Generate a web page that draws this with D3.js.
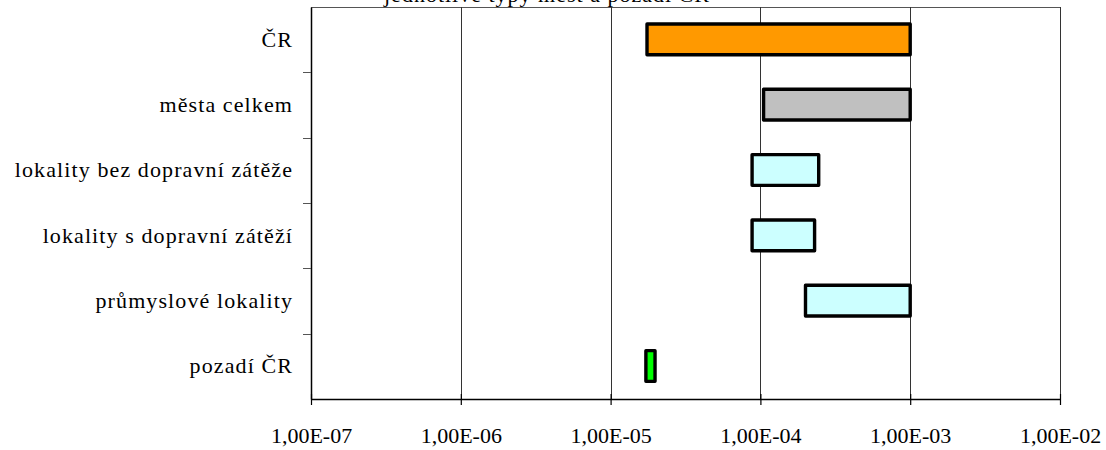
<!DOCTYPE html>
<html>
<head>
<meta charset="utf-8">
<script src="https://cdn.jsdelivr.net/npm/d3@7"></script>
<style>
  body { margin: 0; background: #fff; }
  svg text { font-family: "Liberation Serif", "Times New Roman", serif; }
</style>
</head>
<body>
<div id="chart"></div>
<script>
// data
var categories = ["ČR", "města celkem", "lokality bez dopravní zátěže", "lokality s dopravní zátěží", "průmyslové lokality", "pozadí ČR"]
var minValues = [1.75e-5, 1.05e-4, 8.8e-5, 8.8e-5, 2.0e-4, 1.72e-5]
var maxValues = [1.0e-3, 1.0e-3, 2.45e-4, 2.3e-4, 1.0e-3, 1.98e-5]
var barColors = ["#FF9900", "#C0C0C0", "#CCFFFF", "#CCFFFF", "#CCFFFF", "#00FF00"]
var tickValues = [1e-7, 1e-6, 1e-5, 1e-4, 1e-3, 1e-2]
var tickLabels = ["1,00E-07", "1,00E-06", "1,00E-05", "1,00E-04", "1,00E-03", "1,00E-02"]
var title = "jednotlivé typy měst a pozadí ČR"

const W = 1106, H = 450
const margin = {top: 7, right: 46, bottom: 51, left: 311}
const width = W - margin.left - margin.right
const height = H - margin.top - margin.bottom

const svg = d3.select("#chart").append("svg")
  .attr("width", W)
  .attr("height", H)

const g = svg.append("g")
  .attr("transform", `translate(${margin.left},${margin.top})`)

const x = d3.scaleLog()
  .domain([1e-7, 1e-2])
  .range([0, width])

const y = d3.scaleBand()
  .domain(categories)
  .range([0, height])

// title, cut off at the top like in the original
svg.append("text")
  .attr("x", 384)
  .attr("y", 2)
  .attr("text-anchor", "start")
  .style("font-size", "22px")
  .style("letter-spacing", "1px")
  .text(title)

// top border of the plot
g.append("line")
  .attr("x1", 0).attr("x2", width)
  .attr("y1", 0.5).attr("y2", 0.5)
  .attr("stroke", "#555")
  .attr("stroke-width", 1)

// vertical gridlines
g.selectAll(".grid")
  .data(tickValues.slice(1))
  .enter()
  .append("line")
  .attr("class", "grid")
  .attr("x1", d => Math.round(x(d)) + 0.5)
  .attr("x2", d => Math.round(x(d)) + 0.5)
  .attr("y1", 0)
  .attr("y2", height)
  .attr("stroke", "#333")
  .attr("stroke-width", 1)

// bars
g.selectAll(".bar")
  .data(categories)
  .enter()
  .append("rect")
  .attr("class", "bar")
  .attr("x", (d, i) => x(minValues[i]))
  .attr("y", d => y(d) + y.bandwidth() * 0.26)
  .attr("width", (d, i) => x(maxValues[i]) - x(minValues[i]))
  .attr("height", y.bandwidth() * 0.47)
  .attr("fill", (d, i) => barColors[i])
  .attr("stroke", "#000")
  .attr("stroke-width", 3.4)
  .attr("stroke-linejoin", "round")

// x axis
const xAxis = d3.axisBottom(x)
  .tickValues(tickValues)
  .tickFormat((d, i) => tickLabels[i])
  .tickSizeInner(6)
  .tickSizeOuter(0)
  .tickPadding(22)

const xg = g.append("g")
  .attr("transform", `translate(0,${height})`)
  .call(xAxis)
xg.select(".domain").attr("stroke", "#000").attr("stroke-width", 1.5)
xg.selectAll(".tick line").attr("y1", -5).attr("stroke", "#000").attr("stroke-width", 1.2)
xg.selectAll(".tick text")
  .style("font-family", '"Liberation Serif", serif')
  .style("font-size", "22px")
  .attr("fill", "#000")

// y axis, ticks sit on the category boundaries
const yAxis = d3.axisLeft(y)
  .tickSize(0)
  .tickPadding(18)
const yg = g.append("g").call(yAxis)
yg.select(".domain").attr("stroke", "#000").attr("stroke-width", 1.5)
yg.selectAll(".tick text")
  .style("font-family", '"Liberation Serif", serif')
  .style("font-size", "22px")
  .style("letter-spacing", "1.1px")
  .attr("fill", "#000")

yg.selectAll(".sep")
  .data(categories.slice(1))
  .enter()
  .append("line")
  .attr("class", "sep")
  .attr("x1", -8).attr("x2", 0)
  .attr("y1", d => Math.round(y(d)) + 0.5)
  .attr("y2", d => Math.round(y(d)) + 0.5)
  .attr("stroke", "#555")
  .attr("stroke-width", 1)
</script>
</body>
</html>
